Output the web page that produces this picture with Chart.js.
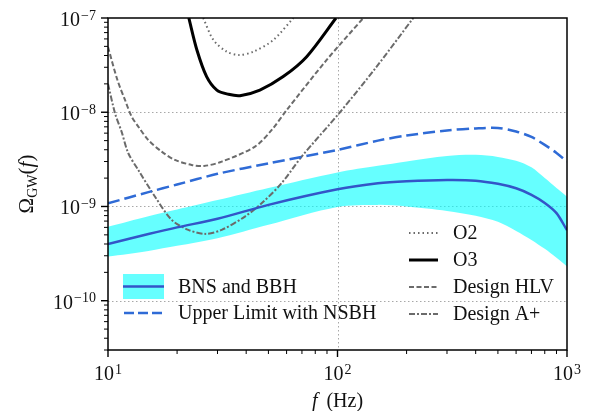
<!DOCTYPE html>
<html lang="en">
<head>
  <meta charset="UTF-8" />
  <title>Omega GW projections</title>
  <script src="https://cdn.jsdelivr.net/npm/chart.js"></script>
  <style>
    body { margin: 0; background: #fff; }
    .wrap { width: 594px; height: 411px; }
  </style>
</head>
<body>
  <div class="wrap"><canvas id="gwChart" width="594" height="411"></canvas></div>

  <script>
    // axis setup
    const xTicks = [10, 100, 1000];
    const yTicks = [1e-10, 1e-9, 1e-8, 1e-7];
    const xRange = [10, 1000];
    const yRange = [3e-11, 1e-7];

    // BNS + BBH band, median and NSBH upper limit share one frequency grid
    const freqGrid  = [10, 15, 20, 30, 50, 100, 150, 200, 300, 400, 500, 600, 700, 800, 900, 1000];
    const bandUpper = [6.1e-10, 7.9e-10, 9.3e-10, 1.17e-9, 1.57e-9, 2.3e-9, 2.70e-9, 3.01e-9, 3.44e-9, 3.53e-9, 3.36e-9, 3.05e-9, 2.6e-9, 2.0e-9, 1.57e-9, 1.27e-9];
    const bandLower = [2.94e-10, 3.38e-10, 3.82e-10, 4.61e-10, 6.41e-10, 9.9e-10, 1.04e-9, 1.0e-9, 8.98e-10, 7.95e-10, 6.87e-10, 5.51e-10, 4.42e-10, 3.55e-10, 2.85e-10, 2.31e-10];
    const bnsBbh    = [4.0e-10, 5.1e-10, 6.0e-10, 7.4e-10, 1.04e-9, 1.52e-9, 1.76e-9, 1.85e-9, 1.91e-9, 1.88e-9, 1.74e-9, 1.56e-9, 1.33e-9, 1.09e-9, 8.5e-10, 5.6e-10];
    const upperNsbh = [1.08e-9, 1.42e-9, 1.71e-9, 2.22e-9, 2.87e-9, 3.98e-9, 5.0e-9, 5.66e-9, 6.41e-9, 6.73e-9, 6.8e-9, 6.25e-9, 5.47e-9, 4.5e-9, 3.7e-9, 2.99e-9];

    // sensitivity curves
    const o2Freq = [26.0, 28.8, 32.9, 37.3, 43.0, 52.5, 64.2];
    const o2Vals = [1.0e-7, 5.84e-8, 4.39e-8, 4.05e-8, 4.39e-8, 5.84e-8, 1.0e-7];
    const o3Freq = [22.5, 24.4, 26.9, 29.8, 33.5, 37.6, 45.9, 58.0, 73.4, 98.5];
    const o3Vals = [1.0e-7, 4.58e-8, 2.39e-8, 1.72e-8, 1.55e-8, 1.50e-8, 1.72e-8, 2.39e-8, 3.89e-8, 1.0e-7];
    const hlvFreq = [10, 10.99, 11.86, 12.68, 13.55, 14.98, 17.14, 19.58, 23.15, 26.2, 31.3, 43.7, 51.7, 60.1, 89.7, 129.6];
    const hlvVals = [4.93e-8, 2.2e-8, 1.35e-8, 8.98e-9, 7.04e-9, 5.08e-9, 3.82e-9, 3.12e-9, 2.76e-9, 2.69e-9, 2.99e-9, 4.32e-9, 6.49e-9, 1.057e-8, 3.59e-8, 1.0e-7];
    const apFreq = [10, 10.73, 11.47, 12.26, 13.55, 16.03, 18.95, 22.38, 26.47, 31.3, 39.5, 46.7, 57.1, 69.8, 102.5, 147.2, 213.9];
    const apVals = [2.0e-8, 9.76e-9, 6.18e-9, 3.67e-9, 2.44e-9, 1.27e-9, 7.21e-10, 5.65e-10, 5.12e-10, 5.65e-10, 7.82e-10, 1.08e-9, 1.77e-9, 3.38e-9, 1.0e-8, 2.99e-8, 1.0e-7];

    const FONT = "'Liberation Serif', 'DejaVu Serif', serif";
    const CYAN = 'rgba(0, 255, 255, 0.6)';
    const BLUE = '#3355c8';
    const BLUE_DASH = '#2f6bd6';
    const GRAY = '#6b6b6b';

    const pts = (xs, ys) => xs.map((x, i) => ({ x, y: ys[i] }));

    function drawPow(ctx, exp, x, y, align) {
      const base = '10';
      const sup = (exp < 0 ? '\u2212' : '') + Math.abs(exp);
      ctx.font = `20px ${FONT}`;
      const wb = ctx.measureText(base).width;
      ctx.font = `14px ${FONT}`;
      const ws = ctx.measureText(sup).width;
      const total = wb + 1 + ws;
      const left = align === 'right' ? x - total : x - total / 2;
      ctx.textAlign = 'left';
      ctx.textBaseline = 'alphabetic';
      ctx.font = `20px ${FONT}`;
      ctx.fillText(base, left, y);
      ctx.font = `14px ${FONT}`;
      ctx.fillText(sup, left + wb + 1, y - 6.5);
    }

    function minorsBetween(lo, hi) {
      const out = [];
      for (let d = Math.floor(Math.log10(lo)); d <= Math.ceil(Math.log10(hi)); d++) {
        for (let m = 1; m <= 9; m++) {
          const v = m * Math.pow(10, d);
          if (v >= lo * 0.999 && v <= hi * 1.001) out.push({ v, major: m === 1 });
        }
      }
      return out;
    }

    function handle(ctx, x1, x2, y, color, width, dash) {
      ctx.save();
      ctx.strokeStyle = color;
      ctx.lineWidth = width;
      ctx.setLineDash(dash);
      ctx.beginPath();
      ctx.moveTo(x1, y);
      ctx.lineTo(x2, y);
      ctx.stroke();
      ctx.restore();
    }

    const axesPlugin = {
      id: 'axesPlugin',
      beforeDatasetsDraw(chart) {
        const { ctx, chartArea: a, scales: { x, y } } = chart;
        ctx.save();
        ctx.strokeStyle = '#a8a8a8';
        ctx.lineWidth = 1;
        ctx.setLineDash([1.5, 2.5]);
        xTicks.forEach(v => {
          const px = Math.round(x.getPixelForValue(v)) + 0.5;
          if (px <= a.left + 1 || px >= a.right - 1) return;
          ctx.beginPath(); ctx.moveTo(px, a.top); ctx.lineTo(px, a.bottom); ctx.stroke();
        });
        yTicks.forEach(v => {
          const py = Math.round(y.getPixelForValue(v)) + 0.5;
          if (py <= a.top + 1 || py >= a.bottom - 1) return;
          ctx.beginPath(); ctx.moveTo(a.left, py); ctx.lineTo(a.right, py); ctx.stroke();
        });
        ctx.restore();
      },
      afterDatasetsDraw(chart) {
        const { ctx, chartArea: a, scales: { x, y } } = chart;
        ctx.save();
        ctx.strokeStyle = '#000';
        ctx.fillStyle = '#111';

        // frame
        ctx.lineWidth = 1.5;
        ctx.strokeRect(a.left, a.top, a.right - a.left, a.bottom - a.top);

        // ticks
        minorsBetween(xRange[0], xRange[1]).forEach(t => {
          const px = x.getPixelForValue(t.v);
          ctx.lineWidth = t.major ? 1.4 : 1;
          ctx.beginPath(); ctx.moveTo(px, a.bottom); ctx.lineTo(px, a.bottom + (t.major ? 7 : 4)); ctx.stroke();
        });
        minorsBetween(yRange[0], yRange[1]).forEach(t => {
          const py = y.getPixelForValue(t.v);
          ctx.lineWidth = t.major ? 1.4 : 1;
          ctx.beginPath(); ctx.moveTo(a.left, py); ctx.lineTo(a.left - (t.major ? 7 : 4), py); ctx.stroke();
        });

        // tick labels
        xTicks.forEach(v => drawPow(ctx, Math.round(Math.log10(v)), x.getPixelForValue(v), a.bottom + 30, 'center'));
        yTicks.forEach(v => drawPow(ctx, Math.round(Math.log10(v)), a.left - 12, y.getPixelForValue(v) + 8, 'right'));

        // x title
        ctx.textBaseline = 'alphabetic';
        ctx.textAlign = 'left';
        ctx.font = `italic 20px ${FONT}`;
        const wf = ctx.measureText('f').width;
        ctx.font = `20px ${FONT}`;
        const wr = ctx.measureText('\u2009 (Hz)').width;
        const xc = (a.left + a.right) / 2;
        const lx = xc - (wf + wr) / 2;
        ctx.font = `italic 20px ${FONT}`;
        ctx.fillText('f', lx, 407);
        ctx.font = `20px ${FONT}`;
        ctx.fillText('\u2009 (Hz)', lx + wf, 407);

        // y title, rotated
        ctx.save();
        ctx.translate(33, 184);
        ctx.rotate(-Math.PI / 2);
        const parts = [
          { t: '\u03A9', f: `21px ${FONT}`, dy: 0 },
          { t: 'GW', f: `14px ${FONT}`, dy: 4 },
          { t: '(', f: `21px ${FONT}`, dy: 0 },
          { t: 'f', f: `italic 21px ${FONT}`, dy: 0 },
          { t: ')', f: `21px ${FONT}`, dy: 0 }
        ];
        let tw = 0;
        parts.forEach(p => { ctx.font = p.f; p.w = ctx.measureText(p.t).width; tw += p.w; });
        let cx = -tw / 2;
        parts.forEach(p => { ctx.font = p.f; ctx.fillText(p.t, cx, p.dy); cx += p.w; });
        ctx.restore();

        // legend, left block
        ctx.fillStyle = CYAN;
        ctx.fillRect(123, 274, 41, 25);
        handle(ctx, 123, 164, 286.5, BLUE, 2.5, []);
        handle(ctx, 124, 164, 313, BLUE_DASH, 2.5, [10, 4]);
        ctx.fillStyle = '#111';
        ctx.font = `20px ${FONT}`;
        ctx.textBaseline = 'middle';
        ctx.fillText('BNS and BBH', 178, 288);
        ctx.fillText('Upper Limit with NSBH', 178, 314);

        // legend, right block
        handle(ctx, 409, 438, 233, GRAY, 2, [1.5, 3]);
        handle(ctx, 409, 438, 260, '#000', 3, []);
        handle(ctx, 409, 438, 287, GRAY, 2, [5, 2.5]);
        handle(ctx, 409, 438, 314, GRAY, 2, [6, 2, 2, 2]);
        ctx.fillText('O2', 453, 234);
        ctx.fillText('O3', 453, 261);
        ctx.fillText('Design HLV', 453, 288);
        ctx.fillText('Design A+', 453, 315);

        ctx.restore();
      }
    };

    const ctx = document.getElementById('gwChart').getContext('2d');
    new Chart(ctx, {
      type: 'line',
      data: {
        datasets: [
          { label: 'band upper', data: pts(freqGrid, bandUpper), fill: '+1', backgroundColor: CYAN, borderWidth: 0, borderColor: 'rgba(0,0,0,0)', order: 10 },
          { label: 'band lower', data: pts(freqGrid, bandLower), fill: false, borderWidth: 0, borderColor: 'rgba(0,0,0,0)', order: 10 },
          { label: 'BNS and BBH', data: pts(freqGrid, bnsBbh), borderColor: BLUE, borderWidth: 2.5, fill: false, order: 2 },
          { label: 'Upper Limit with NSBH', data: pts(freqGrid, upperNsbh), borderColor: BLUE_DASH, borderWidth: 2.5, borderDash: [12, 5], fill: false, order: 2 },
          { label: 'O2', data: pts(o2Freq, o2Vals), borderColor: GRAY, borderWidth: 2, borderDash: [1.5, 3], fill: false, order: 3 },
          { label: 'O3', data: pts(o3Freq, o3Vals), borderColor: '#000', borderWidth: 3, fill: false, order: 3 },
          { label: 'Design HLV', data: pts(hlvFreq, hlvVals), borderColor: GRAY, borderWidth: 2, borderDash: [5, 2.5], fill: false, order: 3 },
          { label: 'Design A+', data: pts(apFreq, apVals), borderColor: GRAY, borderWidth: 2, borderDash: [6, 2, 2, 2], fill: false, order: 3 }
        ]
      },
      options: {
        responsive: false,
        animation: false,
        layout: { padding: { left: 108, right: 27, top: 18, bottom: 61 } },
        plugins: { legend: { display: false }, tooltip: { enabled: false } },
        elements: {
          point: { radius: 0 },
          line: { tension: 0.3 }
        },
        scales: {
          x: { type: 'logarithmic', min: xRange[0], max: xRange[1], display: false },
          y: { type: 'logarithmic', min: yRange[0], max: yRange[1], display: false }
        }
      },
      plugins: [axesPlugin]
    });
  </script>
</body>
</html>
